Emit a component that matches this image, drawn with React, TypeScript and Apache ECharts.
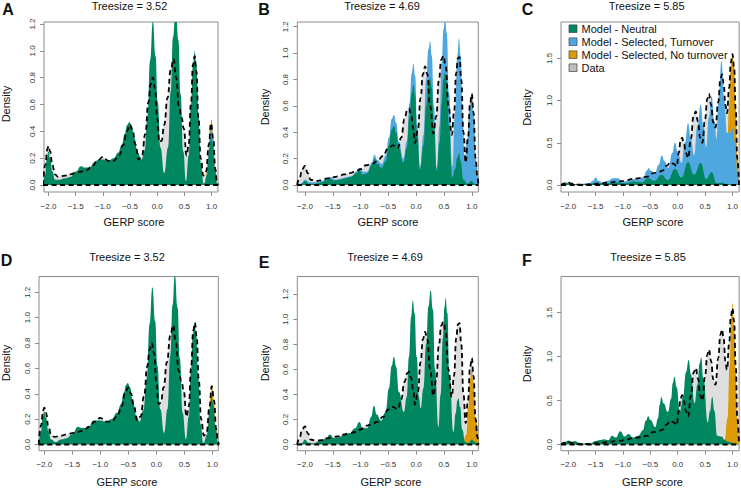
import React, { useEffect, useRef } from "react";
import * as echarts from "echarts";

// ---------- tick values ----------
const X_TICKS = [-2, -1.5, -1, -0.5, 0, 0.5, 1];
const Y_TICKS_SMALL = [0, 0.2, 0.4, 0.6, 0.8, 1.0, 1.2];
const Y_TICKS_LARGE = [0, 0.5, 1.0, 1.5];

const LEGEND_LABELS = [
  "Model - Neutral",
  "Model - Selected, Turnover",
  "Model - Selected, No turnover",
  "Data",
];
const PANEL_LETTERS = ["A", "B", "C", "D", "E", "F"];
const TREESIZES = ["3.52", "4.69", "5.85", "3.52", "4.69", "5.85"];
const X_TITLE = "GERP score";
const Y_TITLE = "Density";

// ---------- observed data densities (same data in each column) ----------
const data352 = [
  [-2.1, 0], [-2.06, 0.15], [-2.02, 0.27], [-2.0, 0.29], [-1.97, 0.25], [-1.93, 0.15], [-1.88, 0.08],
  [-1.82, 0.06], [-1.7, 0.07], [-1.6, 0.08], [-1.5, 0.09], [-1.4, 0.1], [-1.3, 0.11], [-1.2, 0.14],
  [-1.1, 0.18], [-1.0, 0.21], [-0.9, 0.18], [-0.8, 0.18], [-0.7, 0.22], [-0.62, 0.3], [-0.56, 0.4],
  [-0.5, 0.45], [-0.45, 0.4], [-0.4, 0.3], [-0.34, 0.19], [-0.28, 0.22], [-0.22, 0.38], [-0.16, 0.62],
  [-0.12, 0.75], [-0.08, 0.8], [-0.04, 0.72], [0.0, 0.5], [0.04, 0.32], [0.08, 0.33], [0.13, 0.45],
  [0.19, 0.65], [0.25, 0.86], [0.3, 0.94], [0.35, 0.8], [0.4, 0.58], [0.45, 0.5], [0.49, 0.42],
  [0.54, 0.22], [0.58, 0.3], [0.62, 0.6], [0.66, 0.9], [0.69, 0.96], [0.72, 0.85], [0.76, 0.5],
  [0.8, 0.2], [0.85, 0.07], [0.9, 0.1], [0.95, 0.3], [0.99, 0.46], [1.03, 0.35], [1.07, 0.12],
  [1.1, 0.02], [1.12, 0],
];
const data469 = [
  [-2.14, 0], [-2.1, 0.05], [-2.05, 0.12], [-2.0, 0.145], [-1.95, 0.09], [-1.9, 0.04], [-1.8, 0.03],
  [-1.7, 0.035], [-1.6, 0.05], [-1.5, 0.06], [-1.4, 0.065], [-1.3, 0.08], [-1.2, 0.09], [-1.1, 0.1],
  [-1.0, 0.12], [-0.9, 0.15], [-0.8, 0.16], [-0.7, 0.18], [-0.6, 0.22], [-0.5, 0.28], [-0.42, 0.3],
  [-0.33, 0.28], [-0.27, 0.36], [-0.21, 0.5], [-0.16, 0.57], [-0.13, 0.58], [-0.09, 0.53],
  [-0.05, 0.42], [-0.02, 0.32], [0.03, 0.42], [0.08, 0.66], [0.12, 0.84], [0.16, 0.9], [0.2, 0.84],
  [0.25, 0.6], [0.31, 0.39], [0.36, 0.52], [0.41, 0.8], [0.45, 0.95], [0.49, 0.98], [0.53, 0.9],
  [0.58, 0.6], [0.64, 0.38], [0.68, 0.55], [0.72, 0.85], [0.75, 0.96], [0.78, 0.97], [0.81, 0.8],
  [0.85, 0.4], [0.89, 0.17], [0.93, 0.35], [0.97, 0.62], [1.0, 0.69], [1.03, 0.55], [1.07, 0.2],
  [1.1, 0.06], [1.12, 0],
];
const data585 = [
  [-2.13, 0], [-2.07, 0.02], [-2.02, 0.04], [-1.96, 0.02], [-1.85, 0.005], [-1.7, 0.005],
  [-1.55, 0.01], [-1.4, 0.02], [-1.25, 0.03], [-1.1, 0.04], [-0.95, 0.05], [-0.85, 0.07],
  [-0.7, 0.08], [-0.55, 0.1], [-0.45, 0.14], [-0.35, 0.15], [-0.28, 0.17], [-0.2, 0.23],
  [-0.13, 0.27], [-0.07, 0.25], [-0.02, 0.22], [0.02, 0.38], [0.05, 0.52], [0.08, 0.56],
  [0.11, 0.5], [0.15, 0.38], [0.19, 0.32], [0.24, 0.55], [0.29, 0.82], [0.33, 0.87], [0.37, 0.75],
  [0.41, 0.56], [0.45, 0.5], [0.5, 0.78], [0.54, 1.02], [0.57, 1.08], [0.61, 0.95], [0.65, 0.74],
  [0.69, 0.68], [0.74, 0.98], [0.78, 1.25], [0.81, 1.31], [0.84, 1.2], [0.87, 0.95], [0.9, 0.85],
  [0.94, 1.15], [0.97, 1.45], [1.0, 1.55], [1.03, 1.4], [1.06, 0.9], [1.09, 0.3], [1.12, 0],
];

// ---------- model densities, top row (A-C) ----------
const neutralA = [
  [-2.1, 0], [-2.06, 0.08], [-2.03, 0.2], [-2.0, 0.25], [-1.97, 0.2], [-1.93, 0.1], [-1.88, 0.04],
  [-1.8, 0.04], [-1.7, 0.05], [-1.6, 0.06], [-1.5, 0.1], [-1.4, 0.14], [-1.33, 0.13], [-1.25, 0.13],
  [-1.15, 0.17], [-1.08, 0.19], [-1.0, 0.19], [-0.9, 0.18], [-0.8, 0.2], [-0.72, 0.24], [-0.65, 0.3],
  [-0.6, 0.38], [-0.55, 0.45], [-0.51, 0.47], [-0.47, 0.44], [-0.42, 0.35], [-0.36, 0.24],
  [-0.29, 0.19], [-0.23, 0.26], [-0.18, 0.5], [-0.13, 0.93], [-0.08, 1.22], [-0.03, 0.96],
  [0.01, 0.62], [0.06, 0.28], [0.13, 0.09], [0.2, 0.28], [0.25, 0.7], [0.29, 1.1], [0.34, 1.33],
  [0.39, 1.08], [0.43, 0.68], [0.48, 0.25], [0.53, 0.03], [0.58, 0.22], [0.62, 0.58], [0.66, 0.9],
  [0.69, 0.98], [0.72, 0.9], [0.76, 0.52], [0.8, 0.16], [0.86, 0.01], [0.92, 0.08], [0.96, 0.27],
  [0.99, 0.36], [1.02, 0.31], [1.06, 0.13], [1.1, 0.01], [1.12, 0],
];
const turnoverA = [
  [0.55, 0], [0.6, 0.2], [0.64, 0.65], [0.69, 1.0], [0.73, 0.8], [0.77, 0.4], [0.82, 0],
  [0.9, 0], [0.94, 0.2], [0.97, 0.38], [1.0, 0.45], [1.04, 0.3], [1.07, 0.1], [1.1, 0],
];
const noTurnoverA = [[0.9, 0], [0.94, 0.2], [0.97, 0.42], [1.0, 0.49], [1.03, 0.38], [1.06, 0.15], [1.1, 0]];

const neutralB = [
  [-2.14, 0], [-2.05, 0.01], [-2.0, 0.03], [-1.93, 0.01], [-1.8, 0.01], [-1.7, 0.02], [-1.6, 0.04],
  [-1.55, 0.05], [-1.48, 0.035], [-1.38, 0.04], [-1.28, 0.05], [-1.18, 0.06], [-1.08, 0.09],
  [-1.02, 0.11], [-0.96, 0.08], [-0.88, 0.09], [-0.8, 0.15], [-0.75, 0.2], [-0.7, 0.16],
  [-0.62, 0.13], [-0.55, 0.18], [-0.49, 0.3], [-0.44, 0.42], [-0.4, 0.45], [-0.36, 0.4],
  [-0.31, 0.28], [-0.23, 0.17], [-0.17, 0.28], [-0.12, 0.52], [-0.08, 0.7], [-0.05, 0.76],
  [-0.02, 0.68], [0.02, 0.38], [0.07, 0.12], [0.13, 0.3], [0.18, 0.6], [0.22, 0.77], [0.25, 0.81],
  [0.28, 0.74], [0.32, 0.45], [0.37, 0.11], [0.42, 0.32], [0.46, 0.62], [0.49, 0.8], [0.52, 0.85],
  [0.55, 0.78], [0.59, 0.45], [0.65, 0.06], [0.7, 0.12], [0.74, 0.21], [0.77, 0.24], [0.8, 0.18],
  [0.85, 0.04], [0.92, 0.01], [1.0, 0.03], [1.05, 0.01], [1.12, 0],
];
const turnoverB = [
  [-2.14, 0], [-2.08, 0.01], [-2.0, 0.04], [-1.9, 0.02], [-1.8, 0.02], [-1.7, 0.03], [-1.6, 0.05],
  [-1.55, 0.06], [-1.45, 0.04], [-1.35, 0.05], [-1.25, 0.06], [-1.15, 0.07], [-1.08, 0.1],
  [-1.02, 0.13], [-0.95, 0.1], [-0.88, 0.1], [-0.8, 0.17], [-0.75, 0.23], [-0.7, 0.19],
  [-0.62, 0.16], [-0.55, 0.22], [-0.49, 0.36], [-0.44, 0.5], [-0.4, 0.53], [-0.36, 0.47],
  [-0.31, 0.33], [-0.23, 0.2], [-0.17, 0.33], [-0.12, 0.62], [-0.08, 0.85], [-0.05, 0.92],
  [-0.02, 0.83], [0.02, 0.45], [0.07, 0.14], [0.13, 0.38], [0.18, 0.8], [0.22, 1.03], [0.25, 1.09],
  [0.28, 0.98], [0.32, 0.6], [0.37, 0.13], [0.42, 0.45], [0.46, 0.92], [0.49, 1.18], [0.52, 1.26],
  [0.55, 1.15], [0.59, 0.7], [0.65, 0.14], [0.7, 0.55], [0.74, 0.98], [0.77, 1.11], [0.8, 0.98],
  [0.84, 0.5], [0.87, 0.19], [0.92, 0.35], [0.96, 0.6], [1.0, 0.67], [1.04, 0.5], [1.08, 0.15],
  [1.12, 0],
];
const noTurnoverB = [[0.88, 0], [0.92, 0.3], [0.96, 0.6], [1.0, 0.7], [1.03, 0.55], [1.07, 0.2], [1.1, 0]];

const neutralC = [
  [-2.13, 0], [-2.0, 0.02], [-1.9, 0.01], [-1.7, 0.01], [-1.5, 0.02], [-1.3, 0.02], [-1.12, 0.03],
  [-0.95, 0.02], [-0.8, 0.04], [-0.65, 0.03], [-0.55, 0.08], [-0.42, 0.05], [-0.3, 0.12],
  [-0.18, 0.06], [-0.05, 0.19], [0.07, 0.09], [0.19, 0.27], [0.3, 0.12], [0.42, 0.26], [0.52, 0.07],
  [0.62, 0.15], [0.71, 0.02], [0.8, 0.03], [0.9, 0.01], [1.0, 0.01], [1.12, 0],
];
const turnoverC = [
  [-2.13, 0], [-2.06, 0.01], [-2.0, 0.03], [-1.94, 0.01], [-1.8, 0.01], [-1.62, 0.02],
  [-1.55, 0.05], [-1.5, 0.09], [-1.45, 0.05], [-1.38, 0.03], [-1.28, 0.05], [-1.18, 0.08],
  [-1.1, 0.08], [-1.0, 0.04], [-0.9, 0.05], [-0.8, 0.07], [-0.7, 0.06], [-0.62, 0.1], [-0.57, 0.17],
  [-0.53, 0.2], [-0.49, 0.17], [-0.42, 0.13], [-0.35, 0.24], [-0.29, 0.35], [-0.24, 0.28],
  [-0.17, 0.2], [-0.1, 0.38], [-0.05, 0.5], [0.0, 0.4], [0.07, 0.26], [0.13, 0.5], [0.19, 0.73],
  [0.24, 0.55], [0.3, 0.35], [0.36, 0.7], [0.42, 0.95], [0.47, 0.7], [0.52, 0.45], [0.57, 0.8],
  [0.62, 1.05], [0.67, 0.75], [0.71, 0.55], [0.75, 1.05], [0.8, 1.47], [0.85, 1.0], [0.9, 0.62],
  [0.95, 0.62], [1.0, 0.67], [1.05, 0.5], [1.09, 0.15], [1.12, 0],
];
const noTurnoverC = [
  [0.86, 0], [0.9, 0.35], [0.94, 0.95], [0.97, 1.4], [1.0, 1.55], [1.03, 1.4], [1.06, 0.9],
  [1.09, 0.35], [1.12, 0],
];

// ---------- model densities, bottom row (D-F) ----------
const neutralD = [
  [-2.1, 0], [-2.06, 0.1], [-2.03, 0.21], [-2.0, 0.26], [-1.97, 0.21], [-1.93, 0.11], [-1.88, 0.04],
  [-1.8, 0.02], [-1.7, 0.04], [-1.6, 0.05], [-1.5, 0.08], [-1.4, 0.14], [-1.33, 0.13], [-1.22, 0.13],
  [-1.12, 0.19], [-1.0, 0.19], [-0.9, 0.18], [-0.8, 0.2], [-0.7, 0.25], [-0.63, 0.32], [-0.58, 0.41],
  [-0.54, 0.47], [-0.51, 0.485], [-0.47, 0.45], [-0.42, 0.35], [-0.36, 0.23], [-0.3, 0.18],
  [-0.23, 0.27], [-0.17, 0.52], [-0.12, 0.95], [-0.07, 1.24], [-0.02, 0.97], [0.02, 0.62],
  [0.07, 0.28], [0.14, 0.09], [0.2, 0.28], [0.25, 0.7], [0.29, 1.1], [0.33, 1.34], [0.38, 1.08],
  [0.42, 0.68], [0.47, 0.25], [0.53, 0.04], [0.58, 0.22], [0.62, 0.58], [0.65, 0.86], [0.68, 0.96],
  [0.71, 0.88], [0.75, 0.52], [0.79, 0.16], [0.84, 0.01], [0.91, 0.08], [0.95, 0.27], [0.99, 0.37],
  [1.02, 0.31], [1.06, 0.13], [1.1, 0.01], [1.12, 0],
];
const noTurnoverD = [[0.9, 0], [0.94, 0.18], [0.97, 0.38], [1.0, 0.45], [1.03, 0.35], [1.06, 0.15], [1.1, 0]];

const neutralE = [
  [-2.14, 0], [-2.06, 0.01], [-2.0, 0.04], [-1.94, 0.015], [-1.85, 0.01], [-1.72, 0.03],
  [-1.62, 0.05], [-1.55, 0.08], [-1.48, 0.05], [-1.4, 0.055], [-1.3, 0.075], [-1.2, 0.09],
  [-1.1, 0.13], [-1.02, 0.18], [-0.96, 0.13], [-0.88, 0.13], [-0.81, 0.22], [-0.76, 0.31],
  [-0.71, 0.24], [-0.63, 0.19], [-0.55, 0.26], [-0.49, 0.45], [-0.44, 0.63], [-0.4, 0.7],
  [-0.36, 0.62], [-0.31, 0.42], [-0.22, 0.26], [-0.17, 0.38], [-0.13, 0.7], [-0.09, 1.02],
  [-0.06, 1.15], [-0.03, 1.05], [0.01, 0.7], [0.05, 0.38], [0.08, 0.29], [0.13, 0.45], [0.18, 0.8],
  [0.22, 1.1], [0.26, 1.23], [0.3, 1.08], [0.34, 0.6], [0.4, 0.14], [0.44, 0.4], [0.48, 0.85],
  [0.51, 1.1], [0.53, 1.17], [0.56, 1.05], [0.6, 0.55], [0.67, 0.1], [0.71, 0.25], [0.74, 0.35],
  [0.76, 0.37], [0.79, 0.3], [0.83, 0.12], [0.88, 0.02], [0.94, 0.01], [1.0, 0.04], [1.05, 0.02],
  [1.12, 0],
];
const noTurnoverE = [[0.85, 0], [0.9, 0.08], [0.94, 0.3], [0.97, 0.52], [1.0, 0.6], [1.03, 0.5], [1.07, 0.2], [1.12, 0.03]];

const neutralF = [
  [-2.14, 0], [-2.07, 0.02], [-2.0, 0.045], [-1.94, 0.03], [-1.88, 0.04], [-1.8, 0.02], [-1.7, 0.01],
  [-1.6, 0.01], [-1.5, 0.04], [-1.42, 0.05], [-1.35, 0.06], [-1.27, 0.05], [-1.2, 0.1], [-1.13, 0.08],
  [-1.05, 0.15], [-0.97, 0.09], [-0.9, 0.12], [-0.82, 0.08], [-0.72, 0.1], [-0.64, 0.16],
  [-0.58, 0.27], [-0.54, 0.32], [-0.5, 0.28], [-0.41, 0.2], [-0.36, 0.3], [-0.33, 0.45], [-0.3, 0.54],
  [-0.26, 0.47], [-0.18, 0.37], [-0.12, 0.52], [-0.09, 0.7], [-0.06, 0.77], [-0.02, 0.65],
  [0.04, 0.38], [0.1, 0.55], [0.15, 0.82], [0.2, 0.96], [0.24, 0.8], [0.31, 0.47], [0.36, 0.68],
  [0.4, 0.92], [0.43, 0.99], [0.47, 0.75], [0.55, 0.25], [0.59, 0.38], [0.63, 0.54], [0.67, 0.38],
  [0.72, 0.1], [0.8, 0.09], [0.86, 0.05], [0.92, 0.03], [1.0, 0.02], [1.06, 0.01], [1.12, 0],
];
const noTurnoverF = [
  [0.8, 0], [0.86, 0.06], [0.91, 0.3], [0.95, 0.9], [0.98, 1.45], [1.0, 1.61], [1.03, 1.35],
  [1.06, 0.8], [1.09, 0.3], [1.12, 0],
];

// ---------- styling ----------
const FONT = "'Liberation Sans', Arial, Helvetica, sans-serif";
const C_NEUTRAL = "#00875F";
const C_TURNOVER = "#4FA7DF";
const C_NOTURN = "#DB9A06";
const C_DATA = "#DEDEDE";
const C_BOX = "#8c8c8c";
const SMOOTH = 0.5;

type Pts = number[][];
interface Panel {
  grid: { left: number; top: number; width: number; height: number };
  x: [number, number];
  y: [number, number];
  yTicks: number[];
  data: Pts;
  neutral: Pts;
  turnover?: Pts;
  noTurnover: Pts;
  letterPos: [number, number];
  titlePos: [number, number];
  xNamePos: [number, number];
  yNamePos: [number, number];
}

const PANELS: Panel[] = [
  {
    grid: { left: 44, top: 22, width: 174, height: 170 }, x: [-2.083, 1.119], y: [-0.052, 1.215],
    yTicks: Y_TICKS_SMALL, data: data352, neutral: neutralA, turnover: turnoverA, noTurnover: noTurnoverA,
    letterPos: [8, 9], titlePos: [129.5, 6], xNamePos: [134, 222], yNamePos: [6, 104],
  },
  {
    grid: { left: 297.3, top: 22, width: 181, height: 170 }, x: [-2.138, 1.117], y: [-0.053, 1.236],
    yTicks: Y_TICKS_SMALL, data: data469, neutral: neutralB, turnover: turnoverB, noTurnover: noTurnoverB,
    letterPos: [264, 9], titlePos: [382, 6], xNamePos: [388, 222], yNamePos: [264.7, 107],
  },
  {
    grid: { left: 561, top: 22, width: 179, height: 170 }, x: [-2.133, 1.122], y: [-0.083, 1.93],
    yTicks: Y_TICKS_LARGE, data: data585, neutral: neutralC, turnover: turnoverC, noTurnover: noTurnoverC,
    letterPos: [527.5, 9], titlePos: [646.7, 6], xNamePos: [653, 222], yNamePos: [527, 107.5],
  },
  {
    grid: { left: 39, top: 276.5, width: 179.3, height: 174.2 }, x: [-2.095, 1.107], y: [-0.049, 1.325],
    yTicks: Y_TICKS_SMALL, data: data352, neutral: neutralD, noTurnover: noTurnoverD,
    letterPos: [6.5, 260.5], titlePos: [127, 256.5], xNamePos: [127, 481.5], yNamePos: [6, 363],
  },
  {
    grid: { left: 297.3, top: 276.5, width: 181, height: 174.2 }, x: [-2.138, 1.117], y: [-0.0495, 1.342],
    yTicks: Y_TICKS_SMALL, data: data469, neutral: neutralE, noTurnover: noTurnoverE,
    letterPos: [264, 262], titlePos: [385, 256.5], xNamePos: [391, 481.5], yNamePos: [264.5, 363],
  },
  {
    grid: { left: 561, top: 276.5, width: 179, height: 174.2 }, x: [-2.133, 1.122], y: [-0.0705, 1.911],
    yTicks: Y_TICKS_LARGE, data: data585, neutral: neutralF, noTurnover: noTurnoverF,
    letterPos: [527, 260.5], titlePos: [648, 256.5], xNamePos: [652.5, 481.5], yNamePos: [527, 364],
  },
];

const fmt = (v: number) => (v < 0 ? "\u2212" : "") + Math.abs(v).toFixed(1);

function text(x: number, y: number, t: string, size: number, extra: any = {}) {
  return {
    type: "text",
    x,
    y,
    rotation: extra.rotation || 0,
    z: 100,
    silent: true,
    style: {
      text: t,
      fill: "#111",
      font: `${extra.weight || "normal"} ${size}px ${FONT}`,
      textAlign: extra.align || "center",
      textVerticalAlign: "middle",
      align: extra.align || "center",
      verticalAlign: "middle",
    },
  };
}

function buildOption() {
  const grids: any[] = [];
  const xAxes: any[] = [];
  const yAxes: any[] = [];
  const series: any[] = [];
  const graphic: any[] = [];

  const area = (i: number, d: Pts, color: string) => ({
    type: "line",
    xAxisIndex: i,
    yAxisIndex: i,
    data: d,
    smooth: SMOOTH,
    smoothMonotone: "x",
    symbol: "none",
    silent: true,
    lineStyle: { width: 0, color },
    itemStyle: { color },
    areaStyle: { color, opacity: 1 },
  });
  const dashed = (i: number, d: Pts, smooth: number) => ({
    type: "line",
    xAxisIndex: i,
    yAxisIndex: i,
    data: d,
    smooth,
    smoothMonotone: "x",
    symbol: "none",
    silent: true,
    lineStyle: { width: 1.8, color: "#000", type: [5, 3.5] },
  });

  PANELS.forEach((p, i) => {
    grids.push({
      ...p.grid,
      show: true,
      borderColor: C_BOX,
      borderWidth: 1,
      backgroundColor: "transparent",
      containLabel: false,
    });
    xAxes.push({
      type: "value",
      gridIndex: i,
      position: "bottom",
      min: p.x[0],
      max: p.x[1],
      axisLine: { show: false, onZero: false },
      splitLine: { show: false },
      axisTick: { show: true, customValues: X_TICKS, length: 4, lineStyle: { color: C_BOX } },
      axisLabel: { customValues: X_TICKS, formatter: fmt, fontSize: 8, color: "#333", margin: 10, fontFamily: FONT },
    });
    yAxes.push({
      type: "value",
      gridIndex: i,
      position: "left",
      min: p.y[0],
      max: p.y[1],
      axisLine: { show: false, onZero: false },
      splitLine: { show: false },
      axisTick: { show: true, customValues: p.yTicks, length: 4, lineStyle: { color: C_BOX } },
      axisLabel: {
        customValues: p.yTicks,
        formatter: (v: number) => v.toFixed(1),
        fontSize: 8,
        color: "#333",
        margin: 8,
        rotate: 90,
        fontFamily: FONT,
      },
    });

    series.push(area(i, p.data, C_DATA));
    series.push(area(i, p.noTurnover, C_NOTURN));
    if (p.turnover) series.push(area(i, p.turnover, C_TURNOVER));
    series.push(area(i, p.neutral, C_NEUTRAL));
    series.push(dashed(i, p.data, SMOOTH));
    const first = p.data[0][0];
    const last = p.data[p.data.length - 1][0];
    series.push(dashed(i, [[first, 0], [last, 0]], 0));

    graphic.push(text(p.letterPos[0], p.letterPos[1], PANEL_LETTERS[i], 16, { weight: "bold" }));
    graphic.push(text(p.titlePos[0], p.titlePos[1], `Treesize = ${TREESIZES[i]}`, 11));
    graphic.push(text(p.xNamePos[0], p.xNamePos[1], X_TITLE, 11));
    graphic.push(text(p.yNamePos[0], p.yNamePos[1], Y_TITLE, 11, { rotation: Math.PI / 2 }));
  });

  // legend (panel C)
  const legendColors = [C_NEUTRAL, C_TURNOVER, C_NOTURN, "#BEBEBE"];
  const rowY = [28.7, 41.7, 54.7, 67.7];
  LEGEND_LABELS.forEach((lab, k) => {
    graphic.push({
      type: "rect",
      z: 100,
      silent: true,
      shape: { x: 569, y: rowY[k] - 3.8, width: 8, height: 7.6 },
      style: { fill: legendColors[k], stroke: "#444", lineWidth: 0.7 },
    });
    graphic.push(text(581.5, rowY[k], lab, 11, { align: "left" }));
  });

  return {
    animation: false,
    backgroundColor: "#ffffff",
    grid: grids,
    xAxis: xAxes,
    yAxis: yAxes,
    series,
    graphic,
  };
}

export default function App() {
  const ref = useRef<HTMLDivElement>(null);
  useEffect(() => {
    if (!ref.current) return;
    const chart = echarts.init(ref.current, null, { renderer: "svg" });
    chart.setOption(buildOption() as any);
    return () => chart.dispose();
  }, []);
  return (
    <div
      ref={ref}
      style={{ position: "fixed", left: 0, top: 0, width: 741, height: 488, background: "#fff" }}
    />
  );
}
